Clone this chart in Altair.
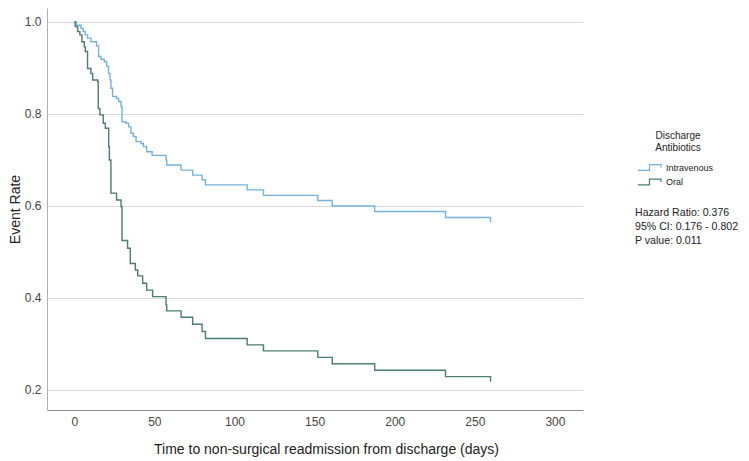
import altair as alt
import pandas as pd

groups = ["Intravenous", "Oral"]
colors = ["#74b2de", "#4b7d72"]

iv_days = [0, 1.4, 4.2, 5.6, 6.9, 8.3, 10.4, 13.9, 15.2, 16.7,
           18.75, 20.2, 21.4, 22.3, 22.9, 23.9, 26.4, 27.7, 29.2, 29.8,
           32.3, 33.9, 35.4, 36.9, 38.6, 41.7, 43.1, 45.2, 48.6, 57.3,
           57.7, 66.7, 73.9, 79.8, 81.9, 107.9, 118.1, 152, 161, 187.5,
           231.7, 259.8]
iv_rate = [1.0, 0.993, 0.986, 0.979, 0.972, 0.965, 0.957, 0.948, 0.925, 0.919,
           0.914, 0.904, 0.888, 0.874, 0.856, 0.838, 0.834, 0.827, 0.816, 0.783,
           0.780, 0.772, 0.758, 0.751, 0.740, 0.736, 0.729, 0.718, 0.710, 0.700,
           0.689, 0.678, 0.667, 0.657, 0.646, 0.635, 0.623, 0.612, 0.600, 0.588,
           0.575, 0.564]

oral_days = [0, 0.6, 2.1, 3.5, 4.8, 6.25, 6.9, 8.3, 10.4, 11.5,
             14.6, 15, 16, 18.1, 19.4, 21.5, 21.9, 22.9, 26.4, 29.2,
             29.8, 33.3, 35, 38.1, 39.6, 42.7, 45.2, 48.9, 57.3, 57.7,
             66.7, 73.9, 79.8, 81.9, 107.9, 118.1, 152, 161, 187.5, 231.7,
             259.8]
oral_rate = [1.0, 0.990, 0.979, 0.972, 0.957, 0.946, 0.936, 0.899, 0.888, 0.874,
             0.870, 0.812, 0.798, 0.780, 0.769, 0.729, 0.700, 0.628, 0.613, 0.599,
             0.525, 0.508, 0.475, 0.461, 0.448, 0.432, 0.417, 0.403, 0.385, 0.372,
             0.358, 0.343, 0.327, 0.312, 0.298, 0.285, 0.271, 0.257, 0.243, 0.229,
             0.218]

x_ticks = [0, 50, 100, 150, 200, 250, 300]
y_ticks = [0.2, 0.4, 0.6, 0.8, 1.0]
stats_lines = ["Hazard Ratio: 0.376", "95% CI: 0.176 - 0.802", "P value: 0.011"]

df = pd.concat([
    pd.DataFrame({"day": iv_days, "rate": iv_rate, "group": groups[0]}),
    pd.DataFrame({"day": oral_days, "rate": oral_rate, "group": groups[1]}),
], ignore_index=True)

step_symbol = "M-2,0.5L0,0.5L0,-0.5L2,-0.5L2,0"

lines = alt.Chart(df).mark_line(interpolate="step-after", strokeWidth=1.4).encode(
    x=alt.X("day:Q",
            scale=alt.Scale(domain=[-17, 317.5], nice=False, zero=False),
            axis=alt.Axis(values=x_ticks, title="Time to non-surgical readmission from discharge (days)",
                          grid=False, ticks=False, domainColor="#8a8a8a", labelPadding=6,
                          labelFontSize=12, labelColor="#444444", titleFontSize=14,
                          titleFontWeight="normal", titleColor="#222222", titlePadding=15,
                          titleX=279)),
    y=alt.Y("rate:Q",
            scale=alt.Scale(domain=[0.1565, 1.0304], nice=False, zero=False),
            axis=alt.Axis(values=y_ticks, format=".1f", title="Event Rate",
                          grid=True, gridColor="#d9d9d9", ticks=False, domainColor="#b0b0b0",
                          labelPadding=6, labelFontSize=12, labelColor="#444444",
                          titleFontSize=14, titleFontWeight="normal", titleColor="#222222",
                          titlePadding=2)),
    color=alt.Color("group:N",
                    scale=alt.Scale(domain=groups, range=colors),
                    legend=alt.Legend(title=["Discharge", "Antibiotics"], orient="none",
                                      legendX=596, legendY=123, padding=0,
                                      titleFontSize=10, titleFontWeight="normal",
                                      titleColor="#222222", titleAlign="center",
                                      titleAnchor="middle", titleLineHeight=12,
                                      titlePadding=8, labelFontSize=9, labelColor="#222222",
                                      symbolType=step_symbol, symbolSize=132,
                                      symbolStrokeWidth=1.3, labelOffset=10, rowPadding=2.5)),
)

stats = alt.Chart(pd.DataFrame({"t": ["\n".join(stats_lines)]})).mark_text(
    align="left", baseline="alphabetic", fontSize=10.6, lineHeight=14,
    lineBreak="\n", color="#222222"
).encode(text="t:N", x=alt.value(588), y=alt.value(208))

chart = alt.layer(lines, stats).properties(
    width=536, height=402,
    autosize=alt.AutoSizeParams(type="none"),
    padding={"left": 39, "top": 0, "right": 158, "bottom": 50},
).configure(font="Liberation Sans").configure_view(stroke=None)

chart.save("out.html", embed_options={"renderer": "svg", "actions": False})
